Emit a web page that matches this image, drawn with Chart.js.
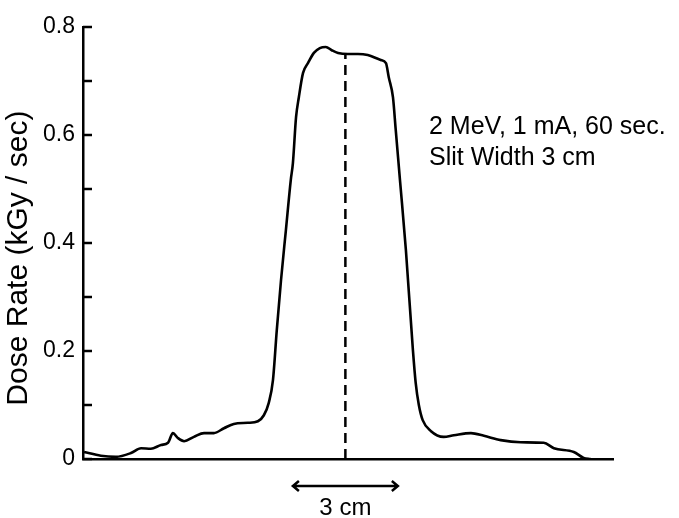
<!DOCTYPE html>
<html lang="en">
<head>
    <meta charset="UTF-8">
    <title>Dose Rate Profile</title>
    <script src="https://cdn.jsdelivr.net/npm/chart.js"></script>
    <style>
        body {
            margin: 0;
            padding: 0;
            background: #fff;
        }
        .wrap {
            width: 679px;
            height: 518px;
            position: relative;
        }
    </style>
</head>
<body>
    <div class="wrap">
        <canvas id="doseChart"></canvas>
    </div>

    <script>
        // position across the slit (cm, 0 = slit centre) and measured dose rate (kGy/sec)
        const positionCm = [
            -7.47, -6.99, -6.56, -6.13, -5.84, -5.56, -5.27, -5.07, -4.93, -4.79,
            -4.61, -4.33, -4.04, -3.76, -3.47, -3.19, -2.79, -2.50, -2.33, -2.19,
            -2.07, -1.96, -1.84, -1.70, -1.56, -1.50, -1.41, -1.33, -1.21, -1.07,
            -0.90, -0.73, -0.56, -0.39, -0.21, 0.07, 0.36, 0.64, 1.01, 1.16,
            1.24, 1.36, 1.44, 1.56, 1.73, 1.93, 2.01, 2.10, 2.21, 2.44,
            2.81, 3.10, 3.59, 3.96, 4.44, 5.01, 5.67, 5.96, 6.53, 6.81, 7.01
        ];
        const doseRate = [
            0.013, 0.006, 0.004, 0.011, 0.020, 0.019, 0.026, 0.030, 0.048, 0.039,
            0.033, 0.041, 0.048, 0.048, 0.057, 0.065, 0.067, 0.070, 0.081, 0.104,
            0.146, 0.239, 0.331, 0.424, 0.517, 0.548, 0.633, 0.670, 0.715, 0.733,
            0.752, 0.761, 0.763, 0.757, 0.752, 0.750, 0.750, 0.748, 0.739, 0.733,
            0.707, 0.670, 0.609, 0.517, 0.387, 0.202, 0.141, 0.100, 0.072, 0.052,
            0.041, 0.044, 0.048, 0.043, 0.035, 0.031, 0.030, 0.020, 0.013, 0.002, 0
        ];

        // dashed centre line
        const centreX = [0, 0];
        const centreY = [0, 0.75];

        // y tick labels (minor ticks every 0.1)
        const yLabelValues = [0, 0.2, 0.4, 0.6, 0.8];
        const yLabels = ['0', '0.2', '0.4', '0.6', '0.8'];

        // slit width marker and texts
        const slitFrom = -1.5;
        const slitTo = 1.5;
        const slitText = '3 cm';
        const noteLines = ['2 MeV, 1 mA, 60 sec.', 'Slit Width 3 cm'];
        const yTitle = 'Dose Rate (kGy / sec)';

        const fontFamily = '"Liberation Sans", Arial, sans-serif';

        const extras = {
            id: 'extras',
            afterDraw(chart) {
                const ctx = chart.ctx;
                const xs = chart.scales.x;
                const ys = chart.scales.y;
                ctx.save();
                ctx.strokeStyle = '#000';
                ctx.fillStyle = '#000';

                // inward ticks on the y axis
                ctx.lineWidth = 2.5;
                ys.ticks.forEach(t => {
                    const py = ys.getPixelForValue(t.value);
                    ctx.beginPath();
                    ctx.moveTo(xs.left, py);
                    ctx.lineTo(xs.left + 9, py);
                    ctx.stroke();
                });

                // slit width arrow below the axis
                const ax1 = xs.getPixelForValue(slitFrom);
                const ax2 = xs.getPixelForValue(slitTo);
                const ay = chart.chartArea.bottom + 27;
                ctx.beginPath();
                ctx.moveTo(ax1, ay);
                ctx.lineTo(ax2, ay);
                ctx.moveTo(ax1 + 6, ay - 5);
                ctx.lineTo(ax1, ay);
                ctx.lineTo(ax1 + 6, ay + 5);
                ctx.moveTo(ax2 - 6, ay - 5);
                ctx.lineTo(ax2, ay);
                ctx.lineTo(ax2 - 6, ay + 5);
                ctx.stroke();

                ctx.font = '24px ' + fontFamily;
                ctx.textAlign = 'center';
                ctx.textBaseline = 'middle';
                ctx.fillText(slitText, (ax1 + ax2) / 2, ay + 22);

                // run conditions note
                ctx.font = '25px ' + fontFamily;
                ctx.textAlign = 'left';
                const nx = xs.getPixelForValue(2.39);
                const ny = ys.getPixelForValue(0.615);
                noteLines.forEach((line, i) => {
                    ctx.fillText(line, nx, ny + i * 31);
                });

                // y axis title
                ctx.font = '30px ' + fontFamily;
                ctx.textAlign = 'center';
                ctx.translate(19, ys.getPixelForValue(0.372));
                ctx.rotate(-Math.PI / 2);
                ctx.fillText(yTitle, 0, 0);
                ctx.restore();
            }
        };

        const ctx = document.getElementById('doseChart').getContext('2d');
        const doseChart = new Chart(ctx, {
            type: 'line',
            data: {
                datasets: [
                    {
                        label: 'Dose rate',
                        data: positionCm.map((x, i) => ({ x: x, y: doseRate[i] })),
                        borderColor: '#000',
                        borderWidth: 2.6,
                        pointRadius: 0,
                        fill: false,
                        cubicInterpolationMode: 'monotone'
                    },
                    {
                        label: 'Centre',
                        data: centreX.map((x, i) => ({ x: x, y: centreY[i] })),
                        borderColor: '#000',
                        borderWidth: 2.5,
                        borderDash: [10, 6],
                        pointRadius: 0,
                        fill: false
                    }
                ]
            },
            options: {
                responsive: true,
                maintainAspectRatio: false,
                animation: false,
                layout: {
                    padding: { top: 27, right: 66, left: 0, bottom: 0 }
                },
                plugins: {
                    legend: { display: false },
                    tooltip: { enabled: false }
                },
                scales: {
                    x: {
                        type: 'linear',
                        min: -7.5,
                        max: 7.65,
                        grid: { display: false },
                        ticks: { display: false },
                        border: { display: true, color: '#000', width: 2.5 },
                        afterFit: (scale) => { scale.height = 59; }
                    },
                    y: {
                        min: 0,
                        max: 0.8,
                        grid: { display: false, drawTicks: false },
                        border: { display: true, color: '#000', width: 2.5 },
                        ticks: {
                            stepSize: 0.1,
                            padding: 8,
                            color: '#000',
                            font: { family: fontFamily, size: 23 },
                            callback: (v) => {
                                const i = yLabelValues.findIndex(t => Math.abs(t - v) < 1e-6);
                                return i >= 0 ? yLabels[i] : '';
                            }
                        },
                        afterFit: (scale) => { scale.width = 83; }
                    }
                }
            },
            plugins: [extras]
        });
    </script>
</body>
</html>
